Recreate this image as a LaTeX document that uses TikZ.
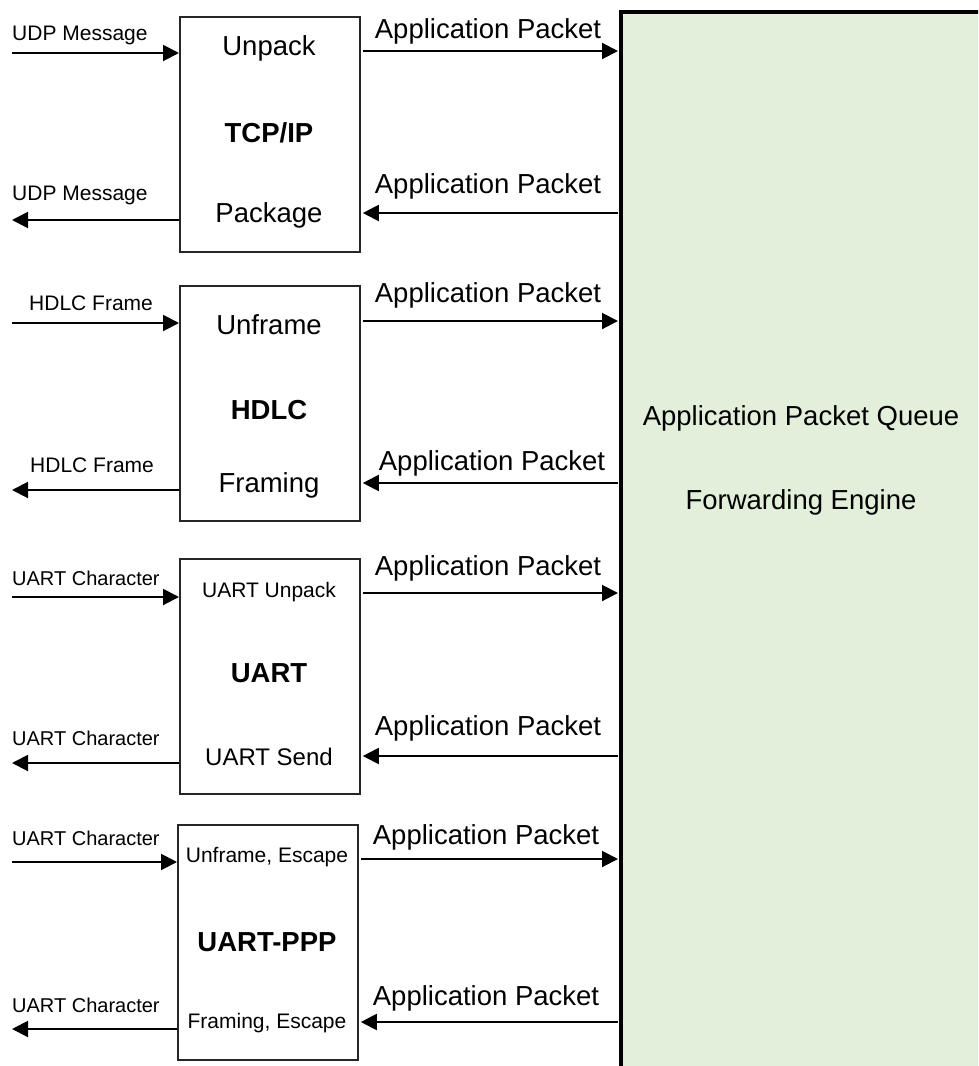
\documentclass[tikz,border=0pt]{standalone}
\usepackage{fontspec}
\setmainfont{Liberation Sans}
\usetikzlibrary{arrows.meta}
\definecolor{qgreen}{HTML}{E2EFDA}
\tikzset{
  blk/.style={draw=black!85, line width=1.8pt, minimum width=180pt, minimum height=235pt, inner sep=0pt, anchor=north west},
  arr/.style={line width=2pt, -{Triangle[length=16pt,width=16pt]}},
  big/.style={inner sep=0pt, font=\fontsize{27.5}{30}\selectfont},
  bigb/.style={inner sep=0pt, font=\fontsize{27.5}{30}\selectfont\bfseries},
  small/.style={inner sep=0pt, font=\fontsize{21}{24}\selectfont},
  lab/.style={inner sep=0pt, anchor=west, font=\fontsize{21}{24}\selectfont},
  aplab/.style={inner sep=0pt, font=\fontsize{27.5}{30}\selectfont},
}
\begin{document}
\begin{tikzpicture}[x=1pt,y=-1pt]
\useasboundingbox (0,0) rectangle (978,1066);
\clip (0,0) rectangle (978,1066);
\fill[white] (0,0) rectangle (978,1066);

% queue / forwarding engine
\node[draw=black, line width=4pt, fill=qgreen, minimum width=500pt, minimum height=1200pt, anchor=north west, inner sep=0pt] (q) at (619,10) {};
\node[big] (qt1) at (801,418) {Application Packet Queue};
\node[big] (qt2) at (801,502) {Forwarding Engine};

% boxes
\node[blk] (tcp)  at (179,16)  {};
\node[blk] (hdlc) at (179,285) {};
\node[blk] (uart) at (179,558) {};
\node[blk] (ppp)  at (177,824) {};

% inner texts
\node[big]  (tcp1) at (269,48)  {Unpack};
\node[bigb] (tcp2) at (269,133) {TCP/IP};
\node[big]  (tcp3) at (269,215) {Package};
\node[big]  (hd1) at (269,325) {Unframe};
\node[bigb] (hd2) at (269,410) {HDLC};
\node[big]  (hd3) at (269,485) {Framing};
\node[small] (ua1) at (269,592) {UART Unpack};
\node[bigb] (ua2) at (269,673) {UART};
\node[inner sep=0pt, font=\fontsize{24}{27}\selectfont] (ua3) at (269,757) {UART Send};
\node[small] (pp1) at (267,857) {Unframe, Escape};
\node[bigb] (pp2) at (267,942) {UART-PPP};
\node[small] (pp3) at (267,1023) {Framing, Escape};

% left labels
\node[lab] (l1) at (12,35)  {UDP Message};
\node[lab] (l2) at (12,195) {UDP Message};
\node[lab] (l3) at (29,303) {HDLC Frame};
\node[lab] (l4) at (30,465) {HDLC Frame};
\node[lab, font=\fontsize{20}{23}\selectfont] (l5) at (12,578)  {UART Character};
\node[lab, font=\fontsize{20}{23}\selectfont] (l6) at (12,738)  {UART Character};
\node[lab, font=\fontsize{20}{23}\selectfont] (l7) at (12,838)  {UART Character};
\node[lab, font=\fontsize{20}{23}\selectfont] (l8) at (12,1005) {UART Character};

% application packet labels
\node[aplab] (a1) at (488,31)  {Application Packet};
\node[aplab] (a2) at (488,186) {Application Packet};
\node[aplab] (a3) at (488,295) {Application Packet};
\node[aplab] (a4) at (492,463) {Application Packet};
\node[aplab] (a5) at (488,568) {Application Packet};
\node[aplab] (a6) at (488,728) {Application Packet};
\node[aplab] (a7) at (486,837) {Application Packet};
\node[aplab] (a8) at (486,998) {Application Packet};

% free ends on the left
\coordinate (tin)  at (12,53);
\coordinate (tout) at (12,220);
\coordinate (hin)  at (12,323);
\coordinate (hout) at (12,490);
\coordinate (uin)  at (12,597);
\coordinate (uout) at (12,763);
\coordinate (pin)  at (12,862);
\coordinate (pout) at (12,1029);

\draw[arr] (tin) -- (tin -| tcp.west);
\draw[arr] (tout -| tcp.west) -- (tout);
\draw[arr] (hin) -- (hin -| hdlc.west);
\draw[arr] (hout -| hdlc.west) -- (hout);
\draw[arr] (uin) -- (uin -| uart.west);
\draw[arr] (uout -| uart.west) -- (uout);
\draw[arr] (pin) -- (pin -| ppp.west);
\draw[arr] (pout -| ppp.west) -- (pout);

% rows for application packet arrows
\coordinate (r1) at (0,51);
\coordinate (r2) at (0,213);
\coordinate (r3) at (0,321);
\coordinate (r4) at (0,483);
\coordinate (r5) at (0,593);
\coordinate (r6) at (0,756);
\coordinate (r7) at (0,859);
\coordinate (r8) at (0,1022);

\draw[arr] ([xshift=2pt]r1 -| tcp.east) -- ([xshift=-1pt]r1 -| q.west);
\draw[arr] ([xshift=-1pt]r2 -| q.west) -- ([xshift=2pt]r2 -| tcp.east);
\draw[arr] ([xshift=2pt]r3 -| hdlc.east) -- ([xshift=-1pt]r3 -| q.west);
\draw[arr] ([xshift=-1pt]r4 -| q.west) -- ([xshift=2pt]r4 -| hdlc.east);
\draw[arr] ([xshift=2pt]r5 -| uart.east) -- ([xshift=-1pt]r5 -| q.west);
\draw[arr] ([xshift=-1pt]r6 -| q.west) -- ([xshift=2pt]r6 -| uart.east);
\draw[arr] ([xshift=2pt]r7 -| ppp.east) -- ([xshift=-1pt]r7 -| q.west);
\draw[arr] ([xshift=-1pt]r8 -| q.west) -- ([xshift=2pt]r8 -| ppp.east);
\end{tikzpicture}
\end{document}
